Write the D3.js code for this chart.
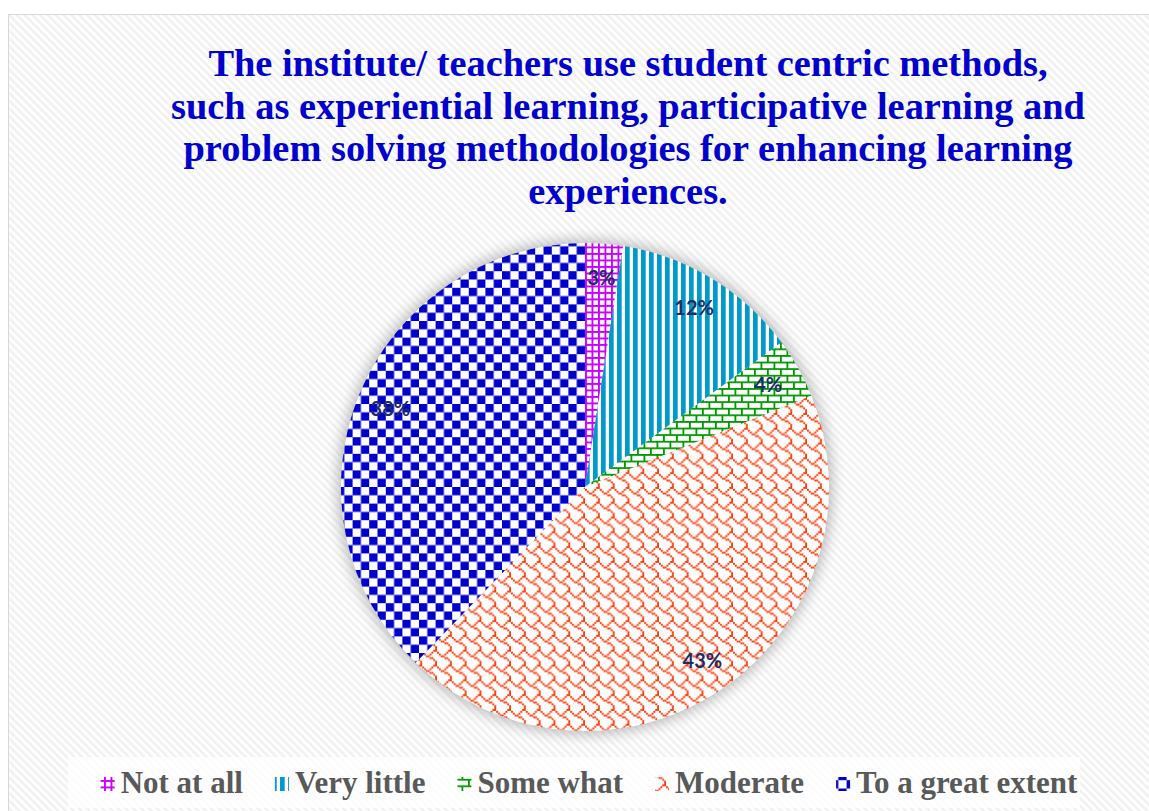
<!DOCTYPE html>
<html>
    <head>
        <meta charset="UTF-8">
        <script src="https://d3js.org/d3.v7.min.js"></script>
        <style>
            body { margin: 0; background: #ffffff; }
            svg { display: block; }
        </style>
    </head>
    <body>
        <div id='chart'></div>
        <script type='text/javascript'>
            // data (percent of respondents)
            var categories = ["Not at all", "Very little", "Some what", "Moderate", "To a great extent"];
            var values = [2.5, 12.4, 4.0, 43.3, 37.8];
            var titleLines = [
                "The institute/ teachers use student centric methods,",
                "such as experiential learning, participative learning and",
                "problem solving methodologies for enhancing learning",
                "experiences."
            ];

            var width = 1149;
            var height = 811;
            var cx = 585, cy = 487, radius = 244;

            var color = d3.scaleOrdinal()
                .domain(categories)
                .range(['#CC00FF', '#0099CC', '#009900', '#FF3300', '#0000CC']);
            var patternId = d3.scaleOrdinal()
                .domain(categories)
                .range(['pGrid', 'pVert', 'pBrick', 'pShingle', 'pCheck']);

            var svg = d3.select("#chart")
                .append("svg")
                .attr("width", width)
                .attr("height", height);

            var defs = svg.append("defs");

            // background light diagonal stripes
            var bg = defs.append("pattern")
                .attr("id", "bg")
                .attr("patternUnits", "userSpaceOnUse")
                .attr("width", 5.5).attr("height", 5.5)
                .attr("patternTransform", "rotate(-45)");
            bg.append("rect").attr("width", 5.5).attr("height", 5.5).attr("fill", "#ffffff");
            bg.append("rect").attr("width", 2.6).attr("height", 5.5).attr("fill", "#F1F1F1");

            // small grid
            var g1 = defs.append("pattern").attr("id", "pGrid")
                .attr("patternUnits", "userSpaceOnUse").attr("width", 6.5).attr("height", 6.5);
            g1.append("rect").attr("width", 6.5).attr("height", 6.5).attr("fill", "#fff");
            g1.append("rect").attr("width", 6.5).attr("height", 1.9).attr("fill", color("Not at all"));
            g1.append("rect").attr("width", 1.9).attr("height", 6.5).attr("fill", color("Not at all"));

            // vertical stripes
            var g2 = defs.append("pattern").attr("id", "pVert")
                .attr("patternUnits", "userSpaceOnUse").attr("width", 8).attr("height", 8);
            g2.append("rect").attr("width", 8).attr("height", 8).attr("fill", "#fff");
            g2.append("rect").attr("width", 4.7).attr("height", 8).attr("fill", color("Very little"));

            // horizontal brick
            var bw = 13, bh = 6.6, lw = 1.8;
            var g3 = defs.append("pattern").attr("id", "pBrick")
                .attr("patternUnits", "userSpaceOnUse").attr("width", bw).attr("height", bh * 2);
            g3.append("rect").attr("width", bw).attr("height", bh * 2).attr("fill", "#fff");
            g3.append("rect").attr("y", 0).attr("width", bw).attr("height", lw).attr("fill", color("Some what"));
            g3.append("rect").attr("y", bh).attr("width", bw).attr("height", lw).attr("fill", color("Some what"));
            g3.append("rect").attr("x", 0).attr("y", 0).attr("width", lw).attr("height", bh).attr("fill", color("Some what"));
            g3.append("rect").attr("x", bw / 2).attr("y", bh).attr("width", lw).attr("height", bh).attr("fill", color("Some what"));

            // shingle (8x8 hatch bits, scaled)
            var shingleBits = ["00000011", "10000100", "01001000", "00110000", "00001100", "00000010", "00000001", "00000001"];
            var sc = 1.85;
            var g4 = defs.append("pattern").attr("id", "pShingle")
                .attr("patternUnits", "userSpaceOnUse").attr("width", 8 * sc).attr("height", 8 * sc);
            g4.append("rect").attr("width", 8 * sc).attr("height", 8 * sc).attr("fill", "#fff");
            shingleBits.forEach(function(row, j) {
                row.split("").forEach(function(b, i) {
                    if (b === "1") {
                        g4.append("rect")
                            .attr("x", i * sc).attr("y", j * sc)
                            .attr("width", sc + 0.05).attr("height", sc + 0.05)
                            .attr("fill", color("Moderate"));
                    }
                });
            });

            // large checker board
            var ck = 8.3;
            var g5 = defs.append("pattern").attr("id", "pCheck")
                .attr("patternUnits", "userSpaceOnUse").attr("width", ck * 2).attr("height", ck * 2);
            g5.append("rect").attr("width", ck * 2).attr("height", ck * 2).attr("fill", "#fff");
            g5.append("rect").attr("width", ck).attr("height", ck).attr("fill", color("To a great extent"));
            g5.append("rect").attr("x", ck).attr("y", ck).attr("width", ck).attr("height", ck).attr("fill", color("To a great extent"));

            var blur = defs.append("filter").attr("id", "glow")
                .attr("x", "-20%").attr("y", "-20%").attr("width", "140%").attr("height", "140%");
            blur.append("feGaussianBlur").attr("stdDeviation", 7);

            // chart area
            svg.append("rect")
                .attr("x", 8.5).attr("y", 14.5)
                .attr("width", width + 20).attr("height", height + 20)
                .attr("fill", "url(#bg)")
                .attr("stroke", "#D9D9D9");

            // title
            var title = svg.append("text")
                .attr("text-anchor", "middle")
                .style("font-family", "'Liberation Serif', 'Times New Roman', serif")
                .style("font-weight", "bold")
                .style("font-size", "38.4px")
                .attr("fill", "#0000CC");
            title.selectAll("tspan")
                .data(titleLines)
                .enter()
                .append("tspan")
                .attr("x", 628)
                .attr("y", (d, i) => 76 + i * 42.7)
                .text(d => d);

            // pie
            var pie = d3.pie().sort(null).value(d => d.value);
            var arcs = pie(categories.map((c, i) => ({ name: c, value: values[i] })));
            var arc = d3.arc().innerRadius(0).outerRadius(radius);
            var labelArc = d3.arc().innerRadius(radius * 0.86).outerRadius(radius * 0.86);

            var pieG = svg.append("g").attr("transform", `translate(${cx},${cy})`);

            pieG.append("circle")
                .attr("r", radius + 3)
                .attr("fill", "#8c8c8c")
                .attr("opacity", 0.6)
                .attr("filter", "url(#glow)");

            pieG.selectAll("path.slice")
                .data(arcs)
                .enter()
                .append("path")
                .attr("class", "slice")
                .attr("d", arc)
                .attr("fill", d => "url(#" + patternId(d.data.name) + ")");

            pieG.selectAll("text.lbl")
                .data(arcs)
                .enter()
                .append("text")
                .attr("class", "lbl")
                .attr("transform", d => `translate(${labelArc.centroid(d)})`)
                .attr("text-anchor", "middle")
                .attr("dy", "0.36em")
                .style("font-family", "Lato, 'Open Sans', sans-serif")
                .style("font-weight", "bold")
                .style("font-size", "20px")
                .attr("fill", "#1B2C66")
                .text(d => Math.round(d.data.value) + "%");

            // legend
            svg.append("rect")
                .attr("x", 68).attr("y", 757)
                .attr("width", 1012).attr("height", 51)
                .attr("fill", "#ffffff")
                .attr("opacity", 0.75);

            var legend = svg.append("g");
            var items = legend.selectAll("g.item")
                .data(categories)
                .enter()
                .append("g")
                .attr("class", "item");
            items.append("rect")
                .attr("y", 777)
                .attr("width", 14).attr("height", 14)
                .attr("fill", d => "url(#" + patternId(d) + ")");
            items.append("text")
                .attr("x", 20)
                .attr("y", 793)
                .style("font-family", "'Liberation Serif', 'Times New Roman', serif")
                .style("font-weight", "bold")
                .style("font-size", "31px")
                .attr("fill", "#595959")
                .text(d => d);

            var gap = 32, xpos = 0, offsets = [];
            items.each(function() {
                offsets.push(xpos);
                xpos += 20 + d3.select(this).select("text").node().getComputedTextLength() + gap;
            });
            var total = xpos - gap;
            var start = 589 - total / 2;
            items.each(function(d, i) {
                var x0 = start + offsets[i];
                d3.select(this).select("rect").attr("x", x0);
                d3.select(this).select("text").attr("x", x0 + 20);
            });
        </script>
    </body>
</html>
